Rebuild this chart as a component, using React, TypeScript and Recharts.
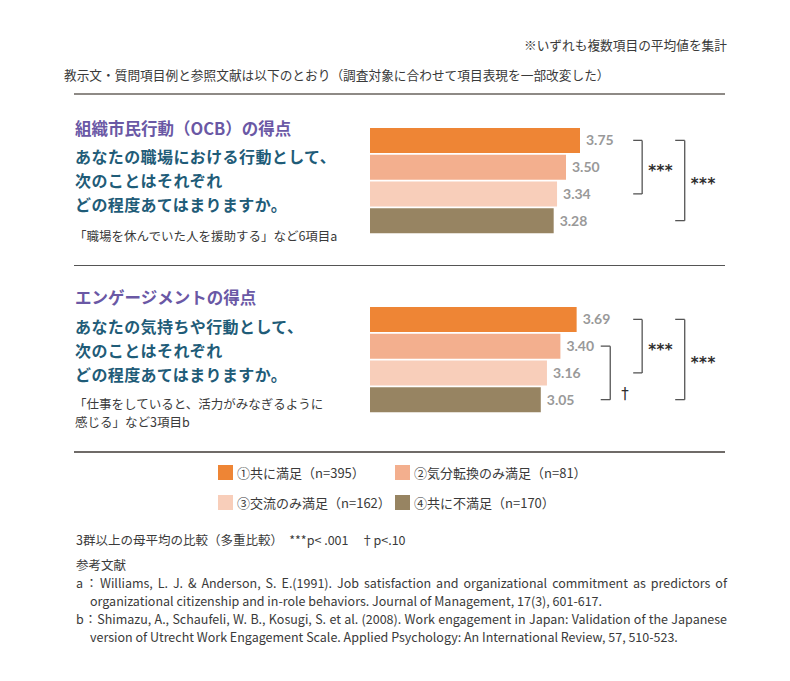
import React from 'react';
import { BarChart, Bar, XAxis, YAxis, Cell, LabelList, ReferenceLine } from 'recharts';

// groups (legend order = bar order)
const groups = ['①共に満足', '②気分転換のみ満足', '③交流のみ満足', '④共に不満足'];
const groupSizes = [395, 81, 162, 170];

const ocbScores = [3.75, 3.5, 3.34, 3.28];
const engagementScores = [3.69, 3.4, 3.16, 3.05];

// multiple comparison results: from group index -> to group index
const ocbTests = [
  { from: 0, to: 2, mark: '***', level: 1 },
  { from: 0, to: 3, mark: '***', level: 2 },
];
const engagementTests = [
  { from: 1, to: 3, mark: '†', level: 0 },
  { from: 0, to: 2, mark: '***', level: 1 },
  { from: 0, to: 3, mark: '***', level: 2 },
];

const COLORS = ['#EE8535', '#F3AF8E', '#F8CEBA', '#978462'];
const BRACKET_X = [
  [4.12, 4.29],
  [4.7, 4.86],
  [5.45, 5.62],
];

const TEXT = '#3a3a3a';
const PURPLE = '#6a58a5';
const TEAL = '#1f5c78';
const JP = '"Noto Sans CJK JP", "Noto Sans", sans-serif';

function Txt({ x, cy, size, children, style }: any) {
  return (
    <div
      style={{
        position: 'absolute',
        left: x,
        top: cy - size * 0.8,
        fontSize: size,
        lineHeight: `${size * 1.5}px`,
        whiteSpace: 'nowrap',
        ...style,
      }}
    >
      {children}
    </div>
  );
}

const renderMark = (mark: string) => (props: any) => {
  const vb = props.viewBox || { x: 0, y: 0, width: 0, height: 0 };
  const dagger = mark === '†';
  const x = vb.x + (dagger ? 11 : 6);
  const y = dagger ? vb.y + vb.height - 1 : vb.y + vb.height / 2 + 8.5;
  return (
    <text
      x={x}
      y={y}
      fill="#2e2e2e"
      fontSize={15}
      fontWeight={dagger ? 400 : 700}
      fontFamily="DejaVu Sans"
      letterSpacing={dagger ? 0 : 0.5}
    >
      {mark}
    </text>
  );
};

function ScoreChart({ scores, tests, top }: any) {
  const data = groups.map((g, i) => ({ group: g, score: scores[i] }));
  const lines: any[] = [];
  tests.forEach((t: any, k: number) => {
    const [x0, x1] = BRACKET_X[t.level];
    const a = groups[t.from];
    const b = groups[t.to];
    const common = { stroke: '#555', strokeWidth: 1.3, ifOverflow: 'visible' as const };
    lines.push(<ReferenceLine key={`t${k}`} segment={[{ x: x0, y: a }, { x: x1, y: a }]} {...common} />);
    lines.push(
      <ReferenceLine
        key={`v${k}`}
        segment={[{ x: x1, y: a }, { x: x1, y: b }]}
        {...common}
        label={renderMark(t.mark)}
      />
    );
    lines.push(<ReferenceLine key={`b${k}`} segment={[{ x: x0, y: b }, { x: x1, y: b }]} {...common} />);
  });
  return (
    <div style={{ position: 'absolute', left: 370, top }}>
      <BarChart
        width={392}
        height={107}
        data={data}
        layout="vertical"
        margin={{ top: 0, right: 0, bottom: 0, left: 0 }}
      >
        <XAxis type="number" domain={[0, 7]} hide />
        <YAxis type="category" dataKey="group" hide />
        <Bar dataKey="score" isAnimationActive={false} barSize={25}>
          {data.map((d, i) => (
            <Cell key={d.group} fill={COLORS[i]} />
          ))}
          <LabelList
            dataKey="score"
            position="right"
            offset={6}
            formatter={(v: any) => Number(v).toFixed(2)}
            fill="#999"
            fontSize={14}
            fontWeight={700}
            fontFamily="Lato"
          />
        </Bar>
        {lines}
      </BarChart>
    </div>
  );
}

function Rule({ y, h, color }: any) {
  return <div style={{ position: 'absolute', left: 74, width: 651, top: y - h / 2, height: h, background: color }} />;
}

function Justified({ x, cy, width, children }: any) {
  return (
    <Txt
      x={x}
      cy={cy}
      size={12.5}
      style={{ width, textAlign: 'justify', textAlignLast: 'justify', whiteSpace: 'normal', color: TEXT }}
    >
      {children}
    </Txt>
  );
}

const Q = { color: TEAL, fontWeight: 700, letterSpacing: 0.4, lineHeight: '22px' };

export default function App() {
  return (
    <div
      style={{
        position: 'absolute',
        left: 0,
        top: 0,
        width: 790,
        height: 681,
        background: '#fff',
        fontFamily: JP,
        color: TEXT,
        overflow: 'hidden',
      }}
    >
      <Txt x={0} cy={45} size={12.7} style={{ width: 727, textAlign: 'right' }}>
        ※いずれも複数項目の平均値を集計
      </Txt>
      <Txt x={64} cy={75} size={12.7}>
        教示文・質問項目例と参照文献は以下のとおり（調査対象に合わせて項目表現を一部改変した）
      </Txt>
      <Rule y={93.7} h={2} color="#8e8a86" />

      {/* OCB */}
      <Txt x={75} cy={129} size={16.5} style={{ color: PURPLE, fontWeight: 700 }}>
        組織市民行動（OCB）の得点
      </Txt>
      <Txt x={75} cy={158} size={16} style={Q}>
        あなたの職場における行動として、
      </Txt>
      <Txt x={75} cy={182} size={16} style={Q}>
        次のことはそれぞれ
      </Txt>
      <Txt x={75} cy={206} size={16} style={Q}>
        どの程度あてはまりますか。
      </Txt>
      <Txt x={74} cy={237} size={12.5}>
        「職場を休んでいた人を援助する」など6項目a
      </Txt>
      <ScoreChart scores={ocbScores} tests={ocbTests} top={127} />

      <Rule y={265.5} h={1.2} color="#555" />

      {/* Engagement */}
      <Txt x={75} cy={298} size={16.5} style={{ color: PURPLE, fontWeight: 700 }}>
        エンゲージメントの得点
      </Txt>
      <Txt x={75} cy={328} size={16} style={Q}>
        あなたの気持ちや行動として、
      </Txt>
      <Txt x={75} cy={352} size={16} style={Q}>
        次のことはそれぞれ
      </Txt>
      <Txt x={75} cy={376} size={16} style={Q}>
        どの程度あてはまりますか。
      </Txt>
      <Txt x={74} cy={405} size={12.5}>
        「仕事をしていると、活力がみなぎるように
      </Txt>
      <Txt x={75} cy={423} size={12.5}>
        感じる」など3項目b
      </Txt>
      <ScoreChart scores={engagementScores} tests={engagementTests} top={305.5} />

      <Rule y={452} h={2} color="#6f6b68" />

      {/* legend */}
      {groups.map((g, i) => {
        const col = i % 2;
        const row = Math.floor(i / 2);
        const sx = col === 0 ? 218 : 395;
        const sy = row === 0 ? 465 : 495;
        return (
          <React.Fragment key={g}>
            <div style={{ position: 'absolute', left: sx, top: sy, width: 15, height: 15, background: COLORS[i] }} />
            <Txt x={sx + 19} cy={sy + 8} size={13}>
              {g}（n={groupSizes[i]}）
            </Txt>
          </React.Fragment>
        );
      })}

      {/* notes */}
      <Txt x={76} cy={541} size={12.5}>
        3群以上の母平均の比較（多重比較）　***p&lt; .001　†p&lt;.10
      </Txt>
      <Txt x={76} cy={566} size={12.5}>
        参考文献
      </Txt>
      <Justified x={76} cy={584} width={651}>
        a：Williams, L. J. &amp; Anderson, S. E.(1991). Job satisfaction and organizational commitment as predictors of
      </Justified>
      <Txt x={90} cy={602} size={12.5}>
        organizational citizenship and in-role behaviors. Journal of Management, 17(3), 601-617.
      </Txt>
      <Justified x={76} cy={620} width={651}>
        b：Shimazu, A., Schaufeli, W. B., Kosugi, S. et al. (2008). Work engagement in Japan: Validation of the Japanese
      </Justified>
      <Txt x={90} cy={638} size={12.5}>
        version of Utrecht Work Engagement Scale. Applied Psychology: An International Review, 57, 510-523.
      </Txt>
    </div>
  );
}
